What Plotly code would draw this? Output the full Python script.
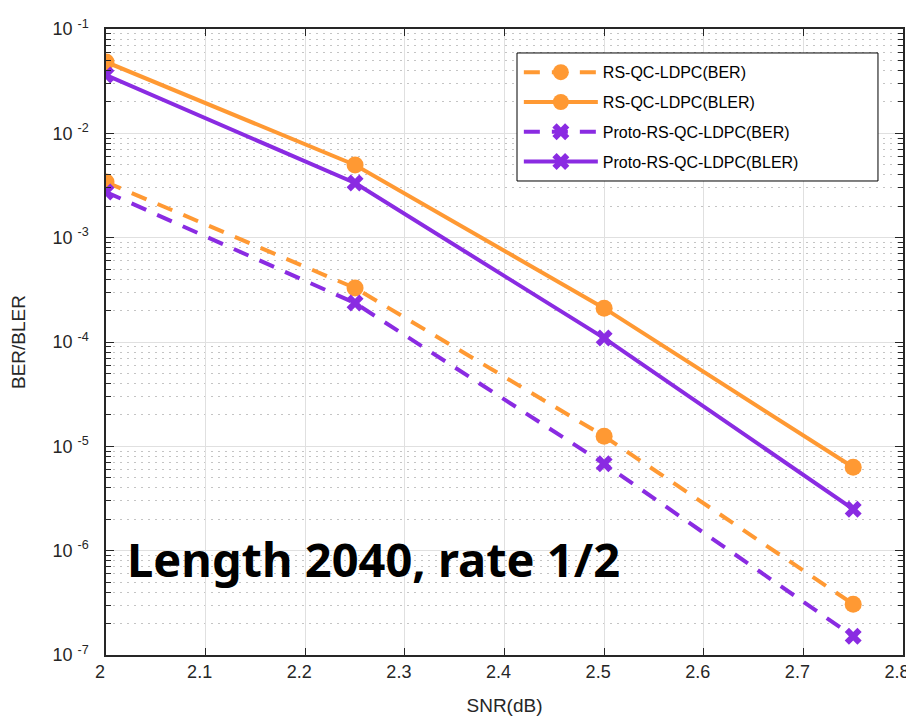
import plotly.graph_objects as go

snr = [2.0, 2.25, 2.5, 2.75]
rs_ber = [3.41e-3, 3.29e-4, 1.25e-5, 3.07e-7]
rs_bler = [4.83e-2, 4.97e-3, 2.11e-4, 6.3e-6]
proto_ber = [2.74e-3, 2.36e-4, 6.8e-6, 1.51e-7]
proto_bler = [3.62e-2, 3.34e-3, 1.09e-4, 2.5e-6]

x_ticks = [2, 2.1, 2.2, 2.3, 2.4, 2.5, 2.6, 2.7, 2.8]
x_ticktext = ["2", "2.1", "2.2", "2.3", "2.4", "2.5", "2.6", "2.7", "2.8"]
y_exps = [-1, -2, -3, -4, -5, -6, -7]

ORANGE = "#FF9933"
PURPLE = "#8A2BE2"
DASH = "16px,12px"
FONT = "Liberation Sans, Arial, sans-serif"
TXT = "#262626"

fig = go.Figure()
series = [
    ("RS-QC-LDPC(BER)", rs_ber, ORANGE, DASH, "circle"),
    ("RS-QC-LDPC(BLER)", rs_bler, ORANGE, "solid", "circle"),
    ("Proto-RS-QC-LDPC(BER)", proto_ber, PURPLE, DASH, "x"),
    ("Proto-RS-QC-LDPC(BLER)", proto_bler, PURPLE, "solid", "x"),
]
for i, (name, vals, color, dash, sym) in enumerate(series):
    fig.add_trace(go.Scatter(
        x=snr, y=vals, name=name, mode="lines+markers", legendgroup="g%d" % i,
        line=dict(color=color, width=4, dash=dash),
        marker=dict(symbol=sym, size=17 if sym == "circle" else 15, color=color,
                    line=dict(width=0)),
    ))

# legend frame
fig.add_shape(type="rect", xref="paper", yref="paper",
              x0=0.5157, x1=0.9686, y0=0.7572, y1=0.9617,
              line=dict(color="black", width=1), fillcolor="white", layer="above")

fig.add_annotation(
    x=0.024, y=0.154, xref="paper", yref="paper", xanchor="left", yanchor="middle",
    text="<b>Length 2040, rate 1/2</b>", showarrow=False,
    font=dict(family="Noto Sans, Open Sans, sans-serif", size=47, color="black"),
)

axis_common = dict(
    showline=True, linecolor=TXT, linewidth=1.5, mirror="ticks",
    ticks="inside", tickcolor=TXT, automargin=False,
    tickfont=dict(family=FONT, size=18, color=TXT),
    showgrid=True, gridcolor="#E0E0E0", gridwidth=1, zeroline=False,
    ticklabeloverflow="allow",
)

fig.update_xaxes(
    **axis_common,
    range=[2, 2.8], tickvals=x_ticks, ticktext=x_ticktext, ticklen=7,
    ticklabelshift=-6,
    title=dict(text="SNR(dB)", font=dict(family=FONT, size=19, color=TXT), standoff=32),
)
fig.update_yaxes(
    **axis_common,
    type="log", range=[-7, -1],
    tickvals=[10.0 ** e for e in y_exps],
    ticktext=["10&nbsp;<sup>%d</sup>" % e for e in y_exps], ticklen=8,
    ticklabelstandoff=12,
    minor=dict(ticks="inside", ticklen=5, tickcolor=TXT, showgrid=True,
               gridcolor="#C4C4C4", griddash="2px,5px", gridwidth=1, dtick="D1"),
    title=dict(text="BER/BLER", font=dict(family=FONT, size=19, color=TXT), standoff=30),
)

fig.update_layout(
    width=906, height=708,
    margin=dict(l=98, r=11, t=21, b=61),
    paper_bgcolor="white", plot_bgcolor="white",
    showlegend=True,
    legend=dict(
        x=0.518, y=0.958, xanchor="left", yanchor="top",
        bgcolor="rgba(0,0,0,0)", borderwidth=0,
        font=dict(family=FONT, size=16, color="black"),
        itemwidth=74, tracegroupgap=6,
    ),
)

fig.write_html("out.html")
